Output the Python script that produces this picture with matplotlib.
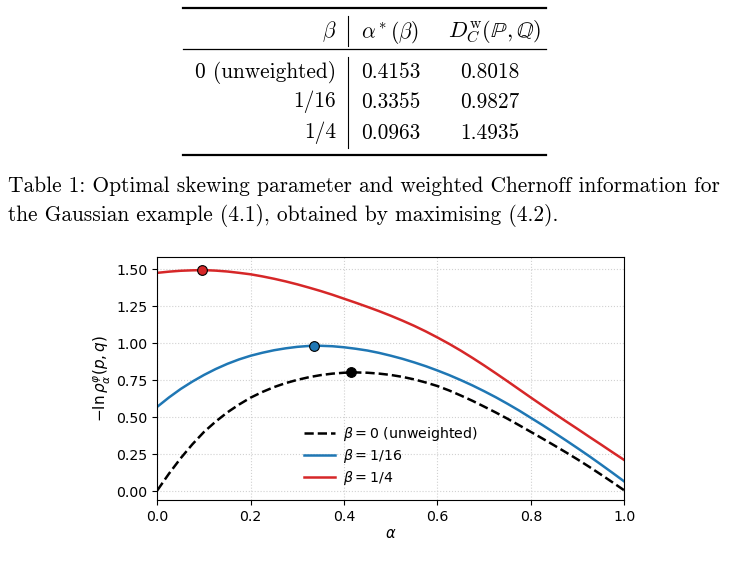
import matplotlib
matplotlib.use("Agg")
import matplotlib.pyplot as plt
from matplotlib.lines import Line2D

# ---- table data ----
table_header = [r"$\beta$", r"$\alpha^*(\beta)$", r"$D_C^{\mathrm{w}}(\mathbb{P},\mathbb{Q})$"]
table_beta = ["0 (unweighted)", "1/16", "1/4"]
table_alpha_star = ["0.4153", "0.3355", "0.0963"]
table_chernoff = ["0.8018", "0.9827", "1.4935"]

caption_lines = [
    "Table 1: Optimal skewing parameter and weighted Chernoff information for",
    "the Gaussian example (4.1), obtained by maximising (4.2).",
]

# ---- curve data ----
alpha = [0.000, 0.025, 0.050, 0.075, 0.100, 0.125, 0.150, 0.175, 0.200, 0.225,
         0.250, 0.275, 0.300, 0.325, 0.350, 0.375, 0.400, 0.425, 0.450, 0.475,
         0.500, 0.525, 0.550, 0.575, 0.600, 0.625, 0.650, 0.675, 0.700, 0.725,
         0.750, 0.775, 0.800, 0.825, 0.850, 0.875, 0.900, 0.925, 0.950, 0.975,
         1.000]
curve_beta0 = [0.005, 0.118, 0.222, 0.316, 0.400, 0.470, 0.532, 0.585, 0.632, 0.670,
               0.703, 0.730, 0.752, 0.770, 0.784, 0.794, 0.800, 0.802, 0.800, 0.794,
               0.785, 0.772, 0.755, 0.734, 0.710, 0.680, 0.646, 0.610, 0.571, 0.531,
               0.489, 0.445, 0.400, 0.355, 0.309, 0.262, 0.214, 0.164, 0.112, 0.059,
               0.005]
curve_beta16 = [0.570, 0.633, 0.690, 0.740, 0.785, 0.825, 0.860, 0.890, 0.915, 0.935,
                0.952, 0.965, 0.975, 0.981, 0.982, 0.979, 0.972, 0.962, 0.950, 0.934,
                0.915, 0.894, 0.870, 0.844, 0.815, 0.784, 0.750, 0.714, 0.675, 0.634,
                0.590, 0.544, 0.495, 0.446, 0.395, 0.343, 0.290, 0.236, 0.180, 0.123,
                0.065]
curve_beta4 = [1.475, 1.483, 1.489, 1.492, 1.4935, 1.490, 1.484, 1.475, 1.465, 1.451,
               1.435, 1.417, 1.397, 1.375, 1.352, 1.327, 1.300, 1.273, 1.245, 1.216,
               1.185, 1.152, 1.117, 1.079, 1.038, 0.995, 0.949, 0.900, 0.849, 0.796,
               0.742, 0.687, 0.632, 0.578, 0.525, 0.472, 0.420, 0.367, 0.315, 0.262,
               0.210]

opt_alpha = [0.4153, 0.3355, 0.0963]
opt_value = [0.8018, 0.9827, 1.4935]

legend_labels = [r"$\beta = 0$ (unweighted)", r"$\beta = 1/16$", r"$\beta = 1/4$"]
colors = ["black", "#1f77b4", "#d62728"]
styles = ["--", "-", "-"]

W, H = 730, 583
fig = plt.figure(figsize=(W / 100, H / 100), dpi=100)

def fx(px):
    return px / W

def fy(py):
    return 1 - py / H

# ---- table ----
cm_font = "cmr10"
fs_tab = 15.4
x_left, x_right = 183, 546
for yy, lw in [(8, 1.6), (49, 0.9), (155, 1.6)]:
    fig.add_artist(Line2D([fx(x_left), fx(x_right)], [fy(yy), fy(yy)], color="black", lw=lw))
for y0, y1 in [(16, 46), (57, 148)]:
    fig.add_artist(Line2D([fx(348), fx(348)], [fy(y0), fy(y1)], color="black", lw=0.8))

fig.text(fx(336), fy(32), table_header[0], ha="right", va="center", fontsize=fs_tab, math_fontfamily="cm")
fig.text(fx(390), fy(32), table_header[1], ha="center", va="center", fontsize=fs_tab, math_fontfamily="cm")
fig.text(fx(495), fy(32), table_header[2], ha="center", va="center", fontsize=fs_tab + 0.8, math_fontfamily="cm")

row_y = [72, 102, 133]
for i, yy in enumerate(row_y):
    fig.text(fx(336), fy(yy), table_beta[i], ha="right", va="center", fontsize=fs_tab, family=cm_font)
    fig.text(fx(391), fy(yy), table_alpha_star[i], ha="center", va="center", fontsize=fs_tab, family=cm_font)
    fig.text(fx(490), fy(yy), table_chernoff[i], ha="center", va="center", fontsize=fs_tab, family=cm_font)

# ---- caption ----
fig.text(fx(8), fy(192), caption_lines[0], ha="left", va="baseline", fontsize=fs_tab, family=cm_font)
fig.text(fx(8), fy(221), caption_lines[1], ha="left", va="baseline", fontsize=fs_tab, family=cm_font)

# ---- plot ----
ax = fig.add_axes([fx(157.3), fy(500), fx(624.3) - fx(157.3), fy(257.3) - fy(500)])
series = [curve_beta0, curve_beta16, curve_beta4]
for s, c, ls, lab in zip(series, colors, styles, legend_labels):
    ax.plot(alpha, s, color=c, linestyle=ls, lw=1.8, label=lab)
for a, v, c in zip(opt_alpha, opt_value, colors):
    ax.plot([a], [v], "o", color=c, markeredgecolor="black", markeredgewidth=0.8,
            markersize=7, zorder=5)

fs_ax = 10.2
ax.set_xlim(0, 1)
ax.set_ylim(-0.06, 1.58)
ax.set_xticks([0.0, 0.2, 0.4, 0.6, 0.8, 1.0])
ax.set_yticks([0.0, 0.25, 0.5, 0.75, 1.0, 1.25, 1.5])
ax.set_yticklabels(["0.00", "0.25", "0.50", "0.75", "1.00", "1.25", "1.50"])
ax.tick_params(labelsize=fs_ax)
ax.grid(True, linestyle=":", linewidth=0.8, color="0.82")
ax.set_xlabel(r"$\alpha$", fontsize=fs_ax + 0.3, labelpad=2)
ax.set_ylabel(r"$-\ln\rho_\alpha^\varphi(p,q)$", fontsize=11, labelpad=2)
ax.legend(loc="lower center", frameon=False, fontsize=fs_ax, handlelength=2.2,
          labelspacing=0.3, handletextpad=0.6, bbox_to_anchor=(0.5, 0.0))

fig.savefig("out.png", dpi=100)
